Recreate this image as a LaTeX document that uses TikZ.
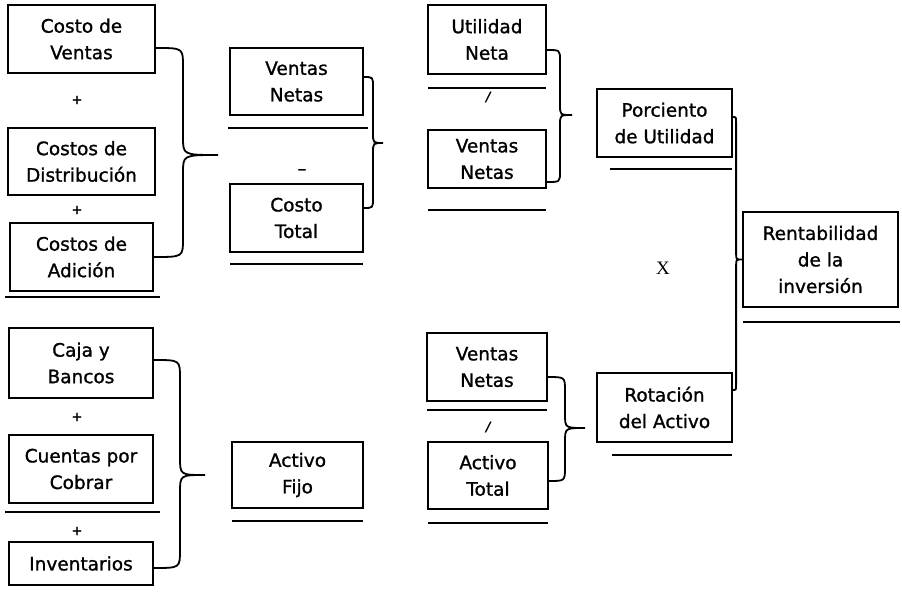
\documentclass[tikz,border=0pt]{standalone}
\usepackage{fontspec}
\setmainfont{DejaVu Sans}[FakeBold=1.2]
\newfontfamily\boxfont{DejaVu Sans}[FakeBold=1.2]
\newfontfamily\serifx{Liberation Serif}
\usetikzlibrary{calc}
\tikzset{
  box/.style={draw, line width=1.8pt, inner sep=0pt, align=center,
    font=\boxfont\fontsize{18.5}{26.5}\selectfont},
  uline/.style={line width=1.8pt},
  bracestyle/.style={line width=1.8pt},
  op/.style={inner sep=0pt, font=\boxfont\fontsize{13}{14}\selectfont},
}
\newcommand\bx[6]{\node[box, minimum width={(#4-#2)*1pt}, minimum height={(#5-#3)*1pt}] (#1) at ({(#2+#4)/2},{(#3+#5)/2}) {#6};}
\newcommand\brc[5]{%
  \draw[bracestyle] let \p1=(#1),\p2=(#2),\p3=(#3) in
    (\p1) .. controls ({\x3-#4},\y1) .. ({\x3-#4},{\y1-#5})
    -- ({\x3-#4},{\y3+#5}) .. controls ({\x3-#4},\y3) .. (\p3)
    .. controls ({\x3-#4},\y3) .. ({\x3-#4},{\y3-#5})
    -- ({\x3-#4},{\y2+#5}) .. controls ({\x3-#4},\y2) .. (\p2);}
\begin{document}
\begin{tikzpicture}[x=1pt,y=-1pt]
\useasboundingbox (0,0) rectangle (902,596);
% boxes
\bx{cv}{8}{5}{155}{73}{Costo de\\Ventas}
\bx{cd}{8}{128}{155}{195}{Costos de\\Distribución}
\bx{ca}{10}{223}{153}{291}{Costos de\\Adición}
\bx{vna}{230}{48}{363}{115}{Ventas\\Netas}
\bx{ct}{230}{184}{363}{252}{Costo\\Total}
\bx{un}{428}{5}{546}{74}{Utilidad\\Neta}
\bx{vnb}{428}{130}{546}{188}{Ventas\\Netas}
\bx{pu}{597}{89}{732}{157}{Porciento\\de Utilidad}
\bx{ri}{743}{212}{898}{307}{Rentabilidad\\de la\\inversión}
\bx{cb}{9}{328}{153}{398}{Caja y\\Bancos}
\bx{cc}{9}{435}{153}{503}{Cuentas por\\Cobrar}
\bx{inv}{9}{542}{153}{585}{Inventarios}
\bx{af}{232}{442}{363}{508}{Activo\\Fijo}
\bx{vnc}{427}{333}{547}{401}{Ventas\\Netas}
\bx{at}{428}{442}{548}{509}{Activo\\Total}
\bx{ra}{597}{373}{732}{442}{Rotación\\del Activo}
% underlines
\draw[uline] (5,297) -- (160,297);
\draw[uline] (228,128) -- (368,128);
\draw[uline] (230,264) -- (363,264);
\draw[uline] (428,88) -- (546,88);
\draw[uline] (428,210) -- (546,210);
\draw[uline] (610,169) -- (732,169);
\draw[uline] (743,322) -- (900,322);
\draw[uline] (5,512) -- (160,512);
\draw[uline] (232,521) -- (363,521);
\draw[uline] (427,410) -- (547,410);
\draw[uline] (428,523) -- (548,523);
\draw[uline] (612,455) -- (732,455);
% operators
\node[op] (p1) at (77,100) {+};
\node[op] (p2) at (77,210) {+};
\node[op] (p3) at (77,417) {+};
\node[op] (p4) at (77,531) {+};
\node[op, font=\boxfont\fontsize{18}{20}\selectfont] (m1) at (302,172) {–};
\node[op] (d1) at (488,97) {\itshape /};
\node[op] (d2) at (488,427) {\itshape /};
\node[inner sep=0pt, font=\serifx\fontsize{19}{22}\selectfont] (xx) at (663,268) {X};
% brace tips
\coordinate (t1) at (218,155);
\coordinate (t2) at (383,143);
\coordinate (t3) at (572,115);
\coordinate (t5) at (205,475);
\coordinate (t6) at (585,428);
% braces
\brc{[yshift=-9pt]cv.east}{ca.east}{t1}{35pt}{18pt}
\brc{[yshift=4.5pt]vna.east}{[yshift=10pt]ct.east}{t2}{10pt}{10pt}
\brc{[yshift=-10.5pt]un.east}{[yshift=-23pt]vnb.east}{t3}{12pt}{10pt}
\brc{[yshift=6pt]pu.east}{[yshift=17.5pt]ra.east}{ri.west}{6pt}{6pt}
\brc{[yshift=3pt]cb.east}{[yshift=-4.5pt]inv.east}{t5}{25pt}{18pt}
\brc{[yshift=-10pt]vnc.east}{[yshift=-5.5pt]at.east}{t6}{20pt}{14pt}
\end{tikzpicture}
\end{document}
